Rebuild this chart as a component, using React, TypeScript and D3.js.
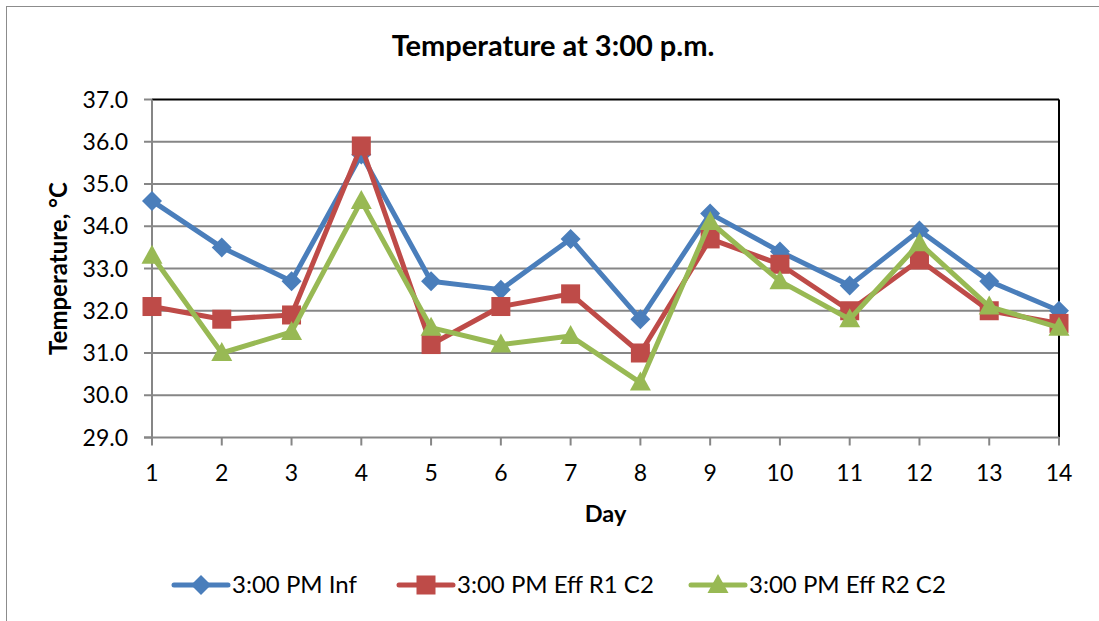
import React from 'react';
import * as d3 from 'd3';

const days = [1, 2, 3, 4, 5, 6, 7, 8, 9, 10, 11, 12, 13, 14];
const infValues = [34.6, 33.5, 32.7, 35.7, 32.7, 32.5, 33.7, 31.8, 34.3, 33.4, 32.6, 33.9, 32.7, 32.0];
const effR1Values = [32.1, 31.8, 31.9, 35.9, 31.2, 32.1, 32.4, 31.0, 33.7, 33.1, 32.0, 33.2, 32.0, 31.7];
const effR2Values = [33.3, 31.0, 31.5, 34.6, 31.6, 31.2, 31.4, 30.3, 34.1, 32.7, 31.8, 33.6, 32.1, 31.6];
const yTicks = [29, 30, 31, 32, 33, 34, 35, 36, 37];
const seriesNames = ['3:00 PM Inf', '3:00 PM Eff R1 C2', '3:00 PM Eff R2 C2'];

const W = 1099;
const H = 621;
const plot = { left: 152, right: 1059, top: 99.5, bottom: 437.5 };
const FONT = 'Lato, Carlito, sans-serif';

const series = [
  { name: seriesNames[0], values: infValues, color: '#4A7EBB', marker: 'diamond' },
  { name: seriesNames[1], values: effR1Values, color: '#BE4B48', marker: 'square' },
  { name: seriesNames[2], values: effR2Values, color: '#98B954', marker: 'triangle' },
];

// Marker glyph centred at 0,0
const Marker: React.FC<{ kind: string; color: string }> = ({ kind, color }) => {
  if (kind === 'diamond') return <path d="M0,-10L10,0L0,10L-10,0Z" fill={color} />;
  if (kind === 'square') return <rect x={-9.5} y={-9.5} width={19} height={19} fill={color} />;
  return <path d="M0,-11L10.5,8L-10.5,8Z" fill={color} />;
};

const App: React.FC = () => {
  const x = d3.scaleLinear().domain([1, 14]).range([plot.left, plot.right]);
  const y = d3.scaleLinear().domain([29, 37]).range([plot.bottom, plot.top]);

  const line = d3
    .line<number>()
    .x((_, i) => x(days[i]))
    .y((d) => y(d));

  // legend positions (line start, text start)
  const legendItems = [
    { lx: 174, tx: 232 },
    { lx: 399, tx: 457 },
    { lx: 691, tx: 749 },
  ];

  return (
    <svg
      width={W}
      height={H}
      style={{ position: 'absolute', left: 0, top: 0, background: '#fff' }}
      fontFamily={FONT}
    >
      <rect x={6.5} y={6.5} width={W + 10} height={H + 10} fill="#fff" stroke="#8c8c8c" strokeWidth={1} />

      <text x={553} y={56} textAnchor="middle" fontSize={29} fontWeight="bold" fill="#000">
        Temperature at 3:00 p.m.
      </text>

      {/* gridlines */}
      {yTicks.slice(1, -1).map((t) => (
        <line key={t} x1={plot.left} x2={plot.right} y1={y(t)} y2={y(t)} stroke="#868686" strokeWidth={2} />
      ))}

      {/* plot frame: black top and right */}
      <line x1={plot.left} x2={plot.right} y1={plot.top} y2={plot.top} stroke="#000" strokeWidth={2} />
      <line x1={plot.right} x2={plot.right} y1={plot.top} y2={plot.bottom} stroke="#000" strokeWidth={2} />

      {/* y axis */}
      <line x1={plot.left} x2={plot.left} y1={plot.top} y2={plot.bottom + 1} stroke="#868686" strokeWidth={2} />
      {yTicks.map((t) => (
        <g key={t}>
          <line x1={plot.left - 8} x2={plot.left} y1={y(t)} y2={y(t)} stroke="#868686" strokeWidth={2} />
          <text x={128} y={y(t)} dy="0.35em" textAnchor="end" fontSize={23} fill="#000">
            {t.toFixed(1)}
          </text>
        </g>
      ))}

      {/* x axis */}
      <line x1={plot.left - 8} x2={plot.right} y1={plot.bottom} y2={plot.bottom} stroke="#868686" strokeWidth={2} />
      {days.map((d) => (
        <g key={d}>
          <line x1={x(d)} x2={x(d)} y1={plot.bottom} y2={plot.bottom + 8} stroke="#868686" strokeWidth={2} />
          <text x={x(d)} y={473} dy="0.35em" textAnchor="middle" fontSize={23} fill="#000">
            {d}
          </text>
        </g>
      ))}

      <text x={(plot.left + plot.right) / 2} y={514} dy="0.35em" textAnchor="middle" fontSize={23.5} fontWeight="bold" fill="#000">
        Day
      </text>
      <text
        transform={`translate(59,${(plot.top + plot.bottom) / 2}) rotate(-90)`}
        dy="0.35em"
        textAnchor="middle"
        fontSize={24}
        fontWeight="bold"
        fill="#000"
      >
        Temperature, °C
      </text>

      {/* series */}
      {series.map((s) => (
        <g key={s.name}>
          <path d={line(s.values) || ''} fill="none" stroke={s.color} strokeWidth={5} strokeLinejoin="round" />
          {s.values.map((v, i) => (
            <g key={i} transform={`translate(${x(days[i])},${y(v)})`}>
              <Marker kind={s.marker} color={s.color} />
            </g>
          ))}
        </g>
      ))}

      {/* legend */}
      {series.map((s, i) => (
        <g key={s.name} transform={`translate(0,585)`}>
          <line x1={legendItems[i].lx} x2={legendItems[i].lx + 54} y1={0} y2={0} stroke={s.color} strokeWidth={5} strokeLinecap="round" />
          <g transform={`translate(${legendItems[i].lx + 27},0)`}>
            <Marker kind={s.marker} color={s.color} />
          </g>
          <text x={legendItems[i].tx} y={0} dy="0.35em" fontSize={24} fill="#000">
            {s.name}
          </text>
        </g>
      ))}
    </svg>
  );
};

export default App;
